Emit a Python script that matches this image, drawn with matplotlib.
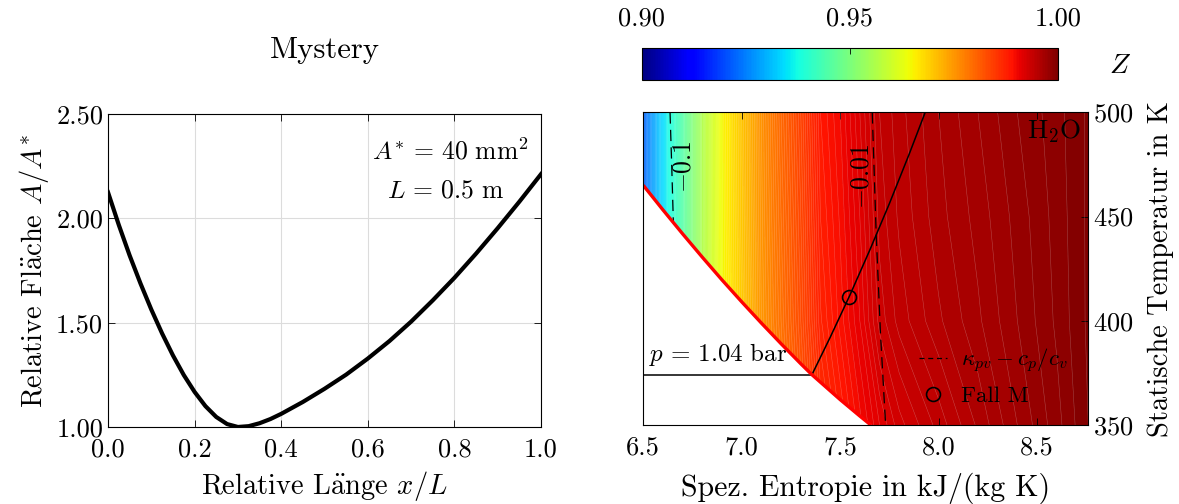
import numpy as np
import matplotlib
matplotlib.use("Agg")
import matplotlib.pyplot as plt
from matplotlib.lines import Line2D
from matplotlib.cm import ScalarMappable
from matplotlib.colors import Normalize
from matplotlib.ticker import FormatStrFormatter

plt.rcParams['font.family'] = 'serif'
plt.rcParams['font.serif'] = ['cmr10']
plt.rcParams['mathtext.fontset'] = 'cm'
plt.rcParams['axes.formatter.use_mathtext'] = True
plt.rcParams['xtick.direction'] = 'in'
plt.rcParams['ytick.direction'] = 'in'

FS_TICK = 19
FS_LAB = 20.5

# nozzle contour
x_rel = [0.0, 0.025, 0.05, 0.075, 0.1, 0.125, 0.15, 0.175, 0.2, 0.225, 0.25, 0.275, 0.3,
         0.325, 0.35, 0.375, 0.4, 0.45, 0.5, 0.55, 0.6, 0.65, 0.7, 0.75, 0.8, 0.85, 0.9,
         0.95, 1.0]
area_rel = [2.125, 1.968, 1.822, 1.688, 1.563, 1.448, 1.343, 1.249, 1.168, 1.100, 1.048, 1.014,
            1.0, 1.004, 1.018, 1.038, 1.063, 1.120, 1.183, 1.251, 1.328, 1.412, 1.505, 1.607,
            1.715, 1.831, 1.953, 2.080, 2.212]

# real-gas factor Z of water vapour on an (s, T) grid
s_grid = [6.5, 6.6, 6.7, 6.8, 6.9, 7.0, 7.1, 7.2, 7.3, 7.4, 7.5, 7.6, 7.7, 7.8, 8.0, 8.2, 8.4, 8.6, 8.76]
T_grid = [350, 400, 450, 500]
z_350 = [0.922, 0.934, 0.945, 0.956, 0.9640, 0.969, 0.9745, 0.978, 0.982, 0.986, 0.988, 0.9898,
         0.9915, 0.9928, 0.9942, 0.9956, 0.997, 0.9983, 0.9995]
z_400 = [0.922, 0.934, 0.945, 0.956, 0.9642, 0.9695, 0.975, 0.979, 0.983, 0.9874, 0.9892, 0.991,
         0.9932, 0.9942, 0.9954, 0.9964, 0.9975, 0.9986, 0.9996]
z_450 = [0.922, 0.934, 0.945, 0.956, 0.9644, 0.9698, 0.9753, 0.9795, 0.9835, 0.988, 0.9896, 0.9915,
         0.9937, 0.9946, 0.9958, 0.9967, 0.9977, 0.9987, 0.9996]
z_500 = [0.922, 0.934, 0.945, 0.956, 0.9645, 0.970, 0.9755, 0.980, 0.984, 0.9885, 0.990, 0.992,
         0.994, 0.9948, 0.996, 0.997, 0.998, 0.9988, 0.9996]

# saturated vapour line
s_sat = [6.5, 6.6, 6.7, 6.8, 6.9, 7.0, 7.1, 7.2, 7.3, 7.356, 7.5, 7.6, 7.656]
T_sat = [465.0, 453.2, 441.7, 430.5, 419.6, 409.1, 398.9, 389.0, 379.4, 374.2, 362.2, 354.3, 350.0]

# isobar p = 1.04 bar
s_iso = [7.356, 7.45, 7.55, 7.65, 7.75, 7.85, 7.932]
T_iso = [374.0, 392.2, 412.4, 433.8, 456.2, 479.8, 500.0]
T_p104 = 374.0

# kappa_pv - cp/cv isolines
s_k1 = [6.636, 6.645, 6.653]
T_k1 = [500, 473, 446.8]
s_k2 = [7.663, 7.683, 7.705, 7.731]
T_k2 = [500, 441.7, 393.6, 350]

# operating point M
s_M = 7.547
T_M = 411.6

fig = plt.figure(figsize=(11.79, 5.04), dpi=100)

# ---- left: area ratio
ax1 = fig.add_axes([0.0916, 0.1528, 0.3673, 0.621])
ax1.plot(x_rel, area_rel, color='k', lw=3.0, solid_joinstyle='round')
ax1.set_xlim(0, 1)
ax1.set_ylim(1, 2.5)
ax1.set_xticks(np.arange(0, 1.01, 0.2))
ax1.set_yticks([1.0, 1.5, 2.0, 2.5])
ax1.xaxis.set_major_formatter(FormatStrFormatter('%.1f'))
ax1.yaxis.set_major_formatter(FormatStrFormatter('%.2f'))
ax1.grid(True, color='#dcdcdc', lw=0.8)
ax1.tick_params(top=True, right=True, labelsize=FS_TICK, length=5, width=0.6)
ax1.tick_params(axis='x', pad=8)
ax1.set_xlabel(r'Relative L$\ddot{\mathrm{a}}$nge $x/L$', fontsize=FS_LAB, labelpad=5)
ax1.set_ylabel(r'Relative Fl$\ddot{\mathrm{a}}$che $A/A^{*}$', fontsize=FS_LAB)
ax1.set_title('Mystery', fontsize=22, pad=40)
ax1.text(0.79, 0.88, r'$A^{*} \,=\, 40\ \mathrm{mm}^2$', transform=ax1.transAxes,
         ha='center', va='center', fontsize=18.5)
ax1.text(0.78, 0.755, r'$L \,=\, 0.5\ \mathrm{m}$', transform=ax1.transAxes,
         ha='center', va='center', fontsize=18.5)
for sp in ax1.spines.values():
    sp.set_linewidth(0.8)

# ---- right: Z field in T-s diagram
ax2 = fig.add_axes([0.5456, 0.1567, 0.3774, 0.6204])
S, T = np.meshgrid(s_grid, T_grid)
Z = np.array([z_350, z_400, z_450, z_500])
levels = np.linspace(0.9, 1.0, 201)
ax2.contourf(S, T, Z, levels=levels, cmap='jet', vmin=0.9, vmax=1.0)
ax2.contour(S, T, Z, levels=levels, colors='w', linewidths=0.35, alpha=0.3)

# blank out the wet region
ax2.fill(s_sat + [6.5], T_sat + [350], color='w', zorder=2)
ax2.plot(s_sat, T_sat, color='r', lw=2.4, zorder=4, solid_capstyle='butt')
ax2.plot([6.5, s_iso[0]], [T_p104, T_p104], color='k', lw=1.1, zorder=3)
ax2.plot(s_iso, T_iso, color='k', lw=1.1, zorder=3)
ax2.plot(s_k1, T_k1, color='k', lw=0.9, ls=(0, (9, 5)), zorder=3)
ax2.plot(s_k2, T_k2, color='k', lw=0.9, ls=(0, (9, 5)), zorder=3)
ax2.plot(s_M, T_M, 'o', ms=10, mfc='none', mec='k', mew=1.2, zorder=5)

ax2.text(6.707, 473.8, r'$-0.1$', rotation=90, ha='center', va='center', fontsize=18.5, zorder=5)
ax2.text(7.607, 469.4, r'$-0.01$', rotation=90, ha='center', va='center', fontsize=18.5, zorder=5)
ax2.text(6.53, 377.5, r'$p \,=\, 1.04\ \mathrm{bar}$', ha='left', va='bottom', fontsize=18, zorder=5)
ax2.text(0.985, 0.94, r'$\mathrm{H_2O}$', transform=ax2.transAxes, ha='right', va='center',
         fontsize=19.5, zorder=5)

handles = [Line2D([], [], color='k', lw=0.9, ls=(0, (4, 3))),
           Line2D([], [], color='k', ls='none', marker='o', ms=10, mfc='none', mew=1.2)]
ax2.legend(handles, [r'$\kappa_{pv} - c_p/c_v$', 'Fall M'], loc='lower left',
           frameon=False, fontsize=16.5, handlelength=1.2, handletextpad=0.6,
           borderaxespad=0.0, labelspacing=0.5, bbox_to_anchor=(0.60, 0.03))

ax2.set_xlim(6.5, 8.76)
ax2.set_ylim(350, 500)
ax2.set_xticks([6.5, 7.0, 7.5, 8.0, 8.5])
ax2.set_yticks([350, 400, 450, 500])
ax2.xaxis.set_major_formatter(FormatStrFormatter('%.1f'))
ax2.yaxis.tick_right()
ax2.yaxis.set_label_position('right')
ax2.tick_params(top=True, left=True, labelsize=FS_TICK, length=5, width=0.6)
ax2.tick_params(axis='x', pad=8)
ax2.set_xlabel('Spez. Entropie in kJ/(kg K)', fontsize=21.5, labelpad=9)
ax2.set_ylabel('Statische Temperatur in K', fontsize=FS_LAB, labelpad=10)
for sp in ax2.spines.values():
    sp.set_linewidth(0.8)
    sp.set_zorder(6)

# ---- colour bar
cax = fig.add_axes([0.5443, 0.8413, 0.3531, 0.0629])
sm = ScalarMappable(norm=Normalize(0.9, 1.0), cmap='jet')
cb = fig.colorbar(sm, cax=cax, orientation='horizontal', ticks=[0.90, 0.95, 1.00])
cax.xaxis.set_ticks_position('top')
cax.xaxis.set_major_formatter(FormatStrFormatter('%.2f'))
cax.tick_params(direction='in', labelsize=FS_TICK, length=4, width=0.6, pad=13)
cb.outline.set_linewidth(0.8)
fig.text(1120 / 1179, 1 - 66 / 504, r'$Z$', ha='center', va='center', fontsize=20)

fig.savefig('out.png', dpi=100)
